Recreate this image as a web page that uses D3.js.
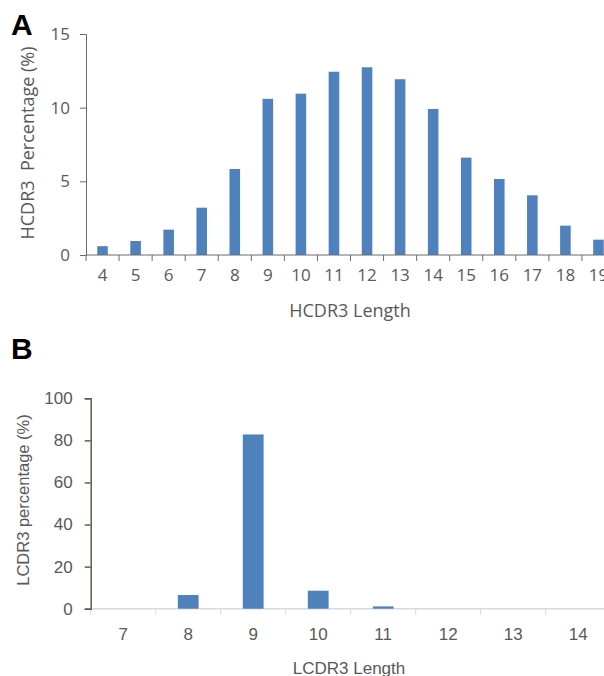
<!DOCTYPE html>
<html>
<head>
<meta charset="utf-8">
<script src="https://cdn.jsdelivr.net/npm/d3@7"></script>
<style>
body { margin: 0; background: #fff; }
svg { display: block; }
</style>
</head>
<body>
<svg width="604" height="676"></svg>
<script>
// panel A data
var hLengths = ["4","5","6","7","8","9","10","11","12","13","14","15","16","17","18","19"];
var hValues = [0.6, 0.95, 1.72, 3.21, 5.84, 10.6, 10.95, 12.44, 12.74, 11.93, 9.91, 6.61, 5.16, 4.05, 1.99, 1.04];
var hTicks = [0, 5, 10, 15];

// panel B data
var lLengths = ["7","8","9","10","11","12","13","14"];
var lValues = [0, 6.5, 82.8, 8.55, 1.1, 0, 0, 0];
var lTicks = [0, 20, 40, 60, 80, 100];

var svg = d3.select("svg");
var blue = "#4f81bd";
var txt = "#595959";

// ---- A ----
var xA = d3.scaleBand().domain(hLengths).range([86, 615]).paddingInner(0.68).paddingOuter(0.34);
var yA = d3.scaleLinear().domain([0, 15]).range([255, 34]);

svg.append("text").attr("x", 11).attr("y", 35)
    .style("font", "bold 30px 'Liberation Sans', Arial, sans-serif").text("A");

var gA = svg.append("g");
gA.selectAll("rect").data(hValues).enter().append("rect")
    .attr("x", function(d, i){ return xA(hLengths[i]); })
    .attr("y", function(d){ return yA(d); })
    .attr("width", xA.bandwidth())
    .attr("height", function(d){ return yA(0) - yA(d); })
    .attr("fill", blue);

var yAxisA = gA.append("g").attr("transform", "translate(86,0)")
    .call(d3.axisLeft(yA).tickValues(hTicks).tickSize(6).tickPadding(10));
var xAxisA = gA.append("g").attr("transform", "translate(0,255)")
    .call(d3.axisBottom(xA).tickSize(0).tickPadding(14));
// boundary ticks between categories
gA.selectAll("line.sep").data(d3.range(hLengths.length + 1)).enter().append("line")
    .attr("class", "sep")
    .attr("x1", function(i){ return 86 + i * xA.step(); })
    .attr("x2", function(i){ return 86 + i * xA.step(); })
    .attr("y1", 255).attr("y2", 261)
    .attr("stroke", "#6b6b6b");
[yAxisA, xAxisA].forEach(function(a){
    a.select(".domain").attr("stroke", "#6b6b6b");
    a.selectAll(".tick line").attr("stroke", "#6b6b6b");
    a.selectAll("text").attr("fill", txt)
        .style("font-family", "'Open Sans', sans-serif").style("font-size", "17px");
});
xAxisA.select(".domain").attr("d", "M86,0H604");

gA.append("text")
    .attr("transform", "translate(34,143) rotate(-90)")
    .attr("text-anchor", "middle").attr("fill", txt)
    .style("font-family", "'Open Sans', sans-serif").style("font-size", "18px")
    .attr("xml:space", "preserve")
    .text("HCDR3  Percentage (%)");
gA.append("text").attr("x", 350).attr("y", 317)
    .attr("text-anchor", "middle").attr("fill", txt)
    .style("font-family", "'Open Sans', sans-serif").style("font-size", "18px")
    .text("HCDR3 Length");

// ---- B ----
var xB = d3.scaleBand().domain(lLengths).range([90.7, 610.7]).paddingInner(0.68).paddingOuter(0.34);
var yB = d3.scaleLinear().domain([0, 100]).range([608.7, 398.3]);

svg.append("text").attr("x", 11).attr("y", 359)
    .style("font", "bold 30px 'Liberation Sans', Arial, sans-serif").text("B");

var gB = svg.append("g");
var xAxisB = gB.append("g").attr("transform", "translate(0,608.7)")
    .call(d3.axisBottom(xB).tickSize(0).tickPadding(19));
xAxisB.select(".domain").attr("d", "M90.7,0H604").attr("stroke", "#d9d9d9").attr("stroke-width", 1.5);
gB.selectAll("line.sep").data(d3.range(lLengths.length + 1)).enter().append("line")
    .attr("class", "sep")
    .attr("x1", function(i){ return 90.7 + i * xB.step(); })
    .attr("x2", function(i){ return 90.7 + i * xB.step(); })
    .attr("y1", 608.7).attr("y2", 615)
    .attr("stroke", "#d9d9d9");

gB.selectAll("rect").data(lValues).enter().append("rect")
    .attr("x", function(d, i){ return xB(lLengths[i]); })
    .attr("y", function(d){ return yB(d); })
    .attr("width", xB.bandwidth())
    .attr("height", function(d){ return yB(0) - yB(d); })
    .attr("fill", blue);

var yAxisB = gB.append("g").attr("transform", "translate(90.7,0)")
    .call(d3.axisLeft(yB).tickValues(lTicks).tickSize(6).tickPadding(12));
yAxisB.select(".domain").attr("stroke", "#5e5e44").attr("stroke-width", 1.5);
yAxisB.selectAll(".tick line").attr("stroke", "#5e5e44").attr("stroke-width", 1.5);
[yAxisB, xAxisB].forEach(function(a){
    a.selectAll("text").attr("fill", txt)
        .style("font-family", "'Liberation Sans', Arial, sans-serif").style("font-size", "17px");
});

gB.append("text")
    .attr("transform", "translate(29,500) rotate(-90)")
    .attr("text-anchor", "middle").attr("fill", txt)
    .style("font-family", "'Liberation Sans', Arial, sans-serif").style("font-size", "16.5px")
    .text("LCDR3 percentage (%)");
gB.append("text").attr("x", 349).attr("y", 674)
    .attr("text-anchor", "middle").attr("fill", txt)
    .style("font-family", "'Liberation Sans', Arial, sans-serif").style("font-size", "17px")
    .text("LCDR3 Length");
</script>
</body>
</html>
